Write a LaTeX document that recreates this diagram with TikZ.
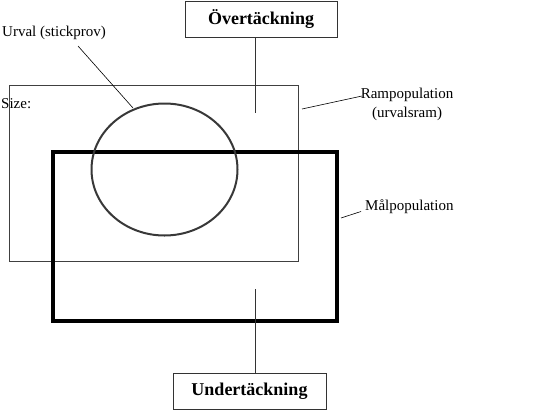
\documentclass[tikz,border=0pt]{standalone}
\usepackage{fontspec}
\setmainfont{Liberation Serif}
\usetikzlibrary{shapes.geometric}
\begin{document}
\begin{tikzpicture}[x=1pt,y=-1pt,
  lbl/.style={font=\fontsize{15}{18.5}\selectfont, inner sep=0pt, align=center},
  titlebox/.style={draw=black!80, line width=0.8pt, inner sep=0pt, font=\fontsize{18}{20}\selectfont\bfseries},
  leader/.style={draw=black, line width=0.6pt},
  conn/.style={draw=black!80, line width=0.8pt}]
\useasboundingbox (0,0) rectangle (535,410);
% frame population
\node[draw=black!75, line width=0.8pt, minimum width=289pt, minimum height=176pt, inner sep=0pt] (ram) at (153.5,173) {};
% target population
\node[draw=black, line width=4pt, minimum width=284pt, minimum height=169pt, inner sep=0pt] (mal) at (195,236.5) {};
% sample
\node[ellipse, draw=black!78, line width=2pt, minimum width=146pt, minimum height=132pt, inner sep=0pt] (urv) at (164.5,169.5) {};
% title boxes
\node[titlebox, minimum width=152pt, minimum height=36pt] (ov) at (261,19) {Övertäckning};
\node[titlebox, minimum width=153pt, minimum height=36pt] (un) at (249.5,391) {Undertäckning};
\coordinate (c1) at (255,113);
\coordinate (c2) at (255,289);
\draw[conn] (ov.south -| c1) -- (c1);
\draw[conn] (c2) -- (un.north -| c2);
% labels
\node[lbl, anchor=west] (urvlbl) at (2,33) {Urval (stickprov)};
\node[lbl, anchor=west] (size) at (1,103.5) {Size:};
\node[lbl] (ramlbl) at (407,104.5) {Rampopulation\\(urvalsram)};
\node[lbl, anchor=west] (mallbl) at (365,206.5) {Målpopulation};
% leaders
\coordinate (u1) at (78,46);
\coordinate (u2) at (133,108);
\draw[leader] (u1) -- (u2);
\coordinate (r1) at (302,109);
\coordinate (r2) at (362,96);
\draw[leader] (r1) -- (r2);
\coordinate (m1) at (341,218);
\coordinate (m2) at (361,211.5);
\draw[leader] (m1) -- (m2);
\end{tikzpicture}
\end{document}
